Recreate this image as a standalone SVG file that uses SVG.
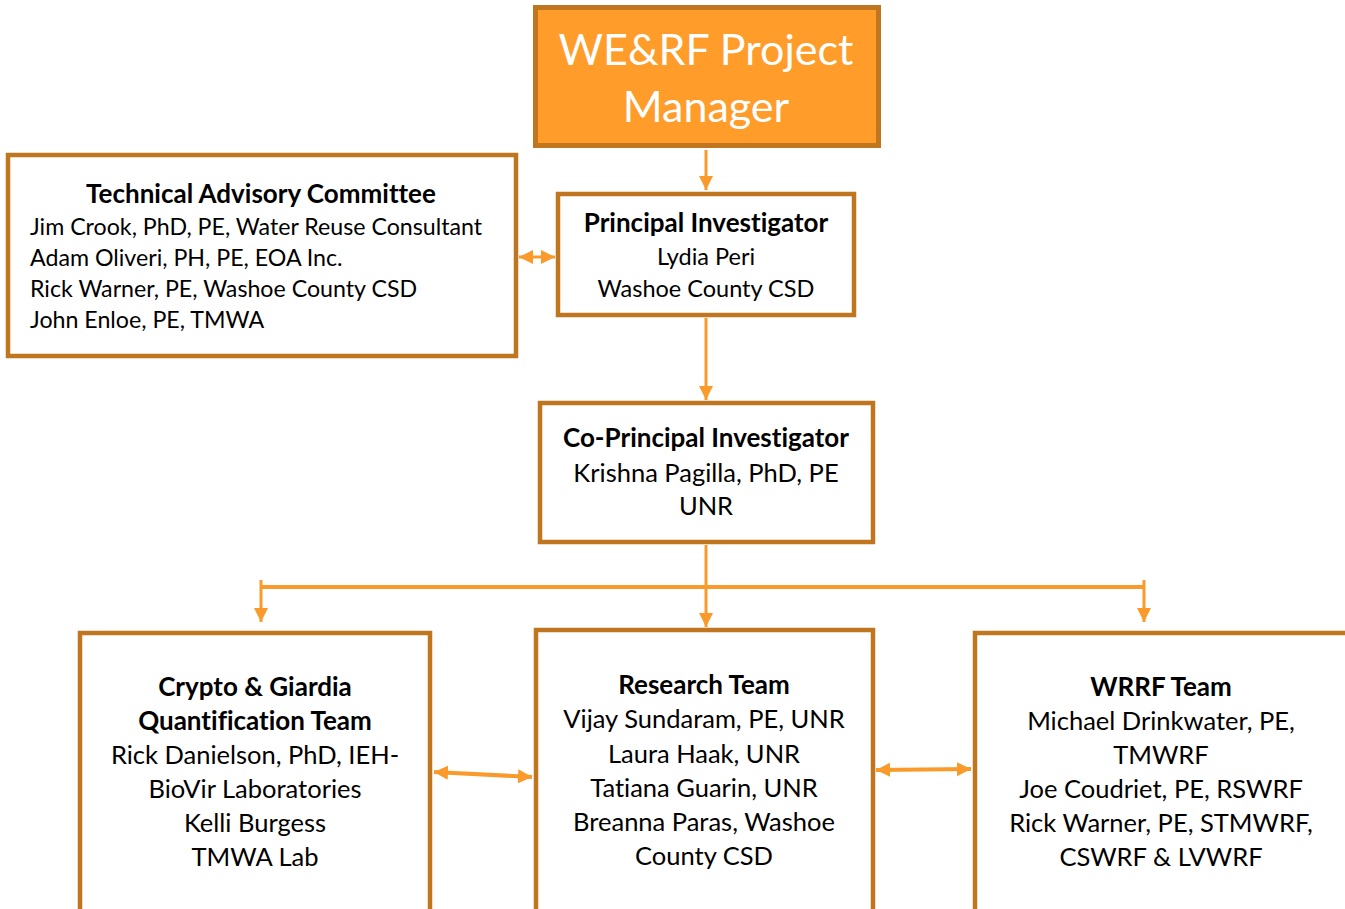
<svg xmlns="http://www.w3.org/2000/svg" width="1345" height="909" viewBox="0 0 1345 909">
  <style>
    .box { fill: #ffffff; stroke: #C0761F; stroke-width: 4.5; }
    .top { fill: #FF9C2A; stroke: #C0761F; stroke-width: 5; }
    text { font-family: Lato, "Liberation Sans", sans-serif; font-variant-ligatures: none; }
    .t { font-size: 23.5px; fill: #000000; text-anchor: middle; }
    .m { font-size: 25.5px; }
    .l { text-anchor: start; font-size: 23.2px; }
    .b { font-weight: bold; font-size: 26px; }
    .big { font-size: 43px; fill: #ffffff; text-anchor: middle; }
    .c { stroke: #F99A2A; stroke-width: 3; fill: none; }
  </style>
  <defs>
    <marker id="ah" markerUnits="userSpaceOnUse" markerWidth="16" markerHeight="16" refX="14" refY="7" orient="auto-start-reverse">
      <path d="M0,0 L14,7 L0,14 Z" fill="#F99A2A"/>
    </marker>
  </defs>

  <!-- connectors -->
  <g id="connectors">
    <line class="c" x1="706" y1="150" x2="706" y2="190" marker-end="url(#ah)"/>
    <line class="c" x1="519" y1="257" x2="555" y2="257" marker-start="url(#ah)" marker-end="url(#ah)"/>
    <line class="c" x1="706" y1="318" x2="706" y2="400" marker-end="url(#ah)"/>
    <line class="c" x1="706" y1="545" x2="706" y2="627" marker-end="url(#ah)"/>
    <line class="c" x1="261" y1="587" x2="1144" y2="587" style="stroke-width:4"/>
    <line class="c" x1="261" y1="580" x2="261" y2="622" marker-end="url(#ah)"/>
    <line class="c" x1="1144" y1="580" x2="1144" y2="622" marker-end="url(#ah)"/>
    <line class="c" x1="434" y1="772" x2="532" y2="777" marker-start="url(#ah)" marker-end="url(#ah)" style="stroke-width:4"/>
    <line class="c" x1="876" y1="770" x2="971" y2="769" marker-start="url(#ah)" marker-end="url(#ah)" style="stroke-width:4"/>
  </g>

  <g id="project-manager">
    <rect class="top" x="535.5" y="7.5" width="343" height="138"/>
    <text class="big" x="706" y="65">WE&amp;RF Project</text>
    <text class="big" x="706" y="122">Manager</text>
  </g>

  <g id="principal-investigator">
    <rect class="box" x="558" y="194" width="296" height="121"/>
    <text class="t b" x="706" y="232">Principal Investigator</text>
    <text class="t" x="706" y="265">Lydia Peri</text>
    <text class="t" x="706" y="297">Washoe County CSD</text>
  </g>

  <g id="technical-advisory-committee">
    <rect class="box" x="8" y="155" width="508" height="201"/>
    <text class="t b" x="261" y="203">Technical Advisory Committee</text>
    <text class="t l" x="30" y="235">Jim Crook, PhD, PE, Water Reuse Consultant</text>
    <text class="t l" x="30" y="266">Adam Oliveri, PH, PE, EOA Inc.</text>
    <text class="t l" x="30" y="297">Rick Warner, PE, Washoe County CSD</text>
    <text class="t l" x="30" y="328">John Enloe, PE, TMWA</text>
  </g>

  <g id="co-principal-investigator">
    <rect class="box" x="540" y="403" width="333" height="139"/>
    <text class="t b" x="706" y="447">Co-Principal Investigator</text>
    <text class="t m" x="706" y="482">Krishna Pagilla, PhD, PE</text>
    <text class="t m" x="706" y="515">UNR</text>
  </g>

  <g id="crypto-giardia-team">
    <rect class="box" x="80" y="633" width="350" height="290"/>
    <text class="t b" x="255" y="696">Crypto &amp; Giardia</text>
    <text class="t b" x="255" y="730">Quantification Team</text>
    <text class="t m" x="255" y="764">Rick Danielson, PhD, IEH-</text>
    <text class="t m" x="255" y="798">BioVir Laboratories</text>
    <text class="t m" x="255" y="832">Kelli Burgess</text>
    <text class="t m" x="255" y="866">TMWA Lab</text>
  </g>

  <g id="research-team">
    <rect class="box" x="536" y="630" width="337" height="293"/>
    <text class="t b" x="704" y="694">Research Team</text>
    <text class="t m" x="704" y="728">Vijay Sundaram, PE, UNR</text>
    <text class="t m" x="704" y="763">Laura Haak, UNR</text>
    <text class="t m" x="704" y="797">Tatiana Guarin, UNR</text>
    <text class="t m" x="704" y="831">Breanna Paras, Washoe</text>
    <text class="t m" x="704" y="865">County CSD</text>
  </g>

  <g id="wrrf-team">
    <rect class="box" x="975" y="633" width="390" height="290"/>
    <text class="t b" x="1161" y="696">WRRF Team</text>
    <text class="t m" x="1161" y="730">Michael Drinkwater, PE,</text>
    <text class="t m" x="1161" y="764">TMWRF</text>
    <text class="t m" x="1161" y="798">Joe Coudriet, PE, RSWRF</text>
    <text class="t m" x="1161" y="832">Rick Warner, PE, STMWRF,</text>
    <text class="t m" x="1161" y="866">CSWRF &amp; LVWRF</text>
  </g>
</svg>
